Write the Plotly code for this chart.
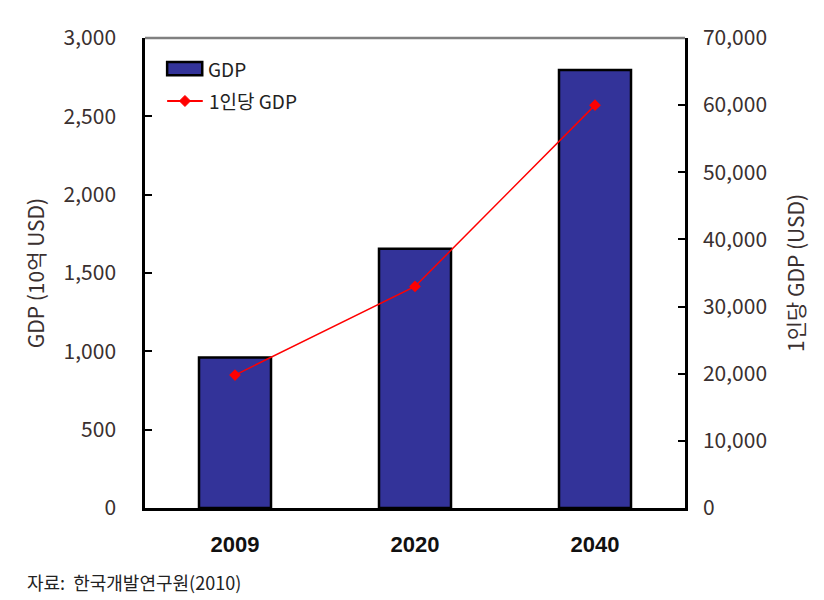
import plotly.graph_objects as go

years = ["2009", "2020", "2040"]
gdp = [960, 1655, 2795]
gdp_per_capita = [19800, 33000, 60000]

left_ticks = [0, 500, 1000, 1500, 2000, 2500, 3000]
right_ticks = [0, 10000, 20000, 30000, 40000, 50000, 60000, 70000]

series_names = ["GDP", "1인당 GDP"]
source_text = "자료:  한국개발연구원(2010)"

txt = "#3a3030"
font_main = "Noto Sans CJK KR"
bar_color = "#333399"
line_color = "#ff0000"

fig = go.Figure()
fig.add_trace(go.Bar(
    x=years, y=gdp, name=series_names[0], width=0.4,
    marker=dict(color=bar_color, line=dict(color="black", width=2.5)),
    yaxis="y", showlegend=False,
))
fig.add_trace(go.Scatter(
    x=years, y=gdp_per_capita, name=series_names[1], mode="lines+markers",
    line=dict(color=line_color, width=1.5),
    marker=dict(symbol="diamond", size=9, color=line_color),
    yaxis="y2", showlegend=False,
))

fig.update_layout(
    width=816, height=592,
    margin=dict(l=137, r=139, t=30, b=92),
    paper_bgcolor="white", plot_bgcolor="white",
    font=dict(family=font_main, color=txt, size=21),
    xaxis=dict(
        type="category", showgrid=False, ticks="",
        showline=True, linecolor="black", linewidth=2.5,
        tickfont=dict(family="Liberation Sans", size=22, color="#111", weight="bold"),
        ticklabelstandoff=15,
    ),
    yaxis=dict(
        range=[0, 3000], tickvals=left_ticks,
        ticktext=[f"{v:,}" for v in left_ticks],
        showgrid=False, zeroline=False,
        showline=True, linecolor="black", linewidth=2.5,
        ticks="inside", ticklen=7, tickwidth=2, tickcolor="black",
        tickfont=dict(size=21, color=txt),
        ticklabelstandoff=22,
        title=dict(text="GDP (10억 USD)", font=dict(size=21, color=txt), standoff=14),
    ),
    yaxis2=dict(
        range=[0, 70000], tickvals=right_ticks,
        ticktext=[f"{v:,}" for v in right_ticks],
        overlaying="y", side="right",
        showgrid=False, zeroline=False,
        showline=True, linecolor="black", linewidth=2.5,
        ticks="inside", ticklen=7, tickwidth=2, tickcolor="black",
        tickfont=dict(size=21, color=txt),
        ticklabelstandoff=11,
        title=dict(text="1인당 GDP (USD)", font=dict(size=21, color=txt), standoff=24),
    ),
)

# gray top border of plot area
fig.add_shape(type="line", xref="paper", yref="paper", x0=0, x1=1, y0=1, y1=1,
              line=dict(color="#808080", width=2.5), layer="below")

# legend (drawn in paper coordinates)
fig.add_shape(type="rect", xref="paper", yref="paper",
              x0=0.041, x1=0.106, y0=0.921, y1=0.949,
              fillcolor=bar_color, line=dict(color="black", width=2.5))
fig.add_annotation(text=series_names[0], xref="paper", yref="paper",
                   x=0.113, y=0.935, xanchor="left", yanchor="middle", showarrow=False,
                   font=dict(size=19, color="#222"))
fig.add_shape(type="line", xref="paper", yref="paper",
              x0=0.041, x1=0.107, y0=0.866, y1=0.866,
              line=dict(color=line_color, width=2))
dx, dy = 5.5 / 540, 5.5 / 470
cx, cy = 0.074, 0.866
fig.add_shape(type="path", xref="paper", yref="paper",
              path=f"M {cx-dx} {cy} L {cx} {cy+dy} L {cx+dx} {cy} L {cx} {cy-dy} Z",
              fillcolor=line_color, line=dict(color=line_color, width=1))
fig.add_annotation(text=series_names[1], xref="paper", yref="paper",
                   x=0.115, y=0.866, xanchor="left", yanchor="middle", showarrow=False,
                   font=dict(size=19, color="#222"))

fig.add_annotation(
    text=source_text, xref="paper", yref="paper",
    x=-0.222, y=-0.157, xanchor="left", yanchor="middle", showarrow=False,
    font=dict(size=18, color="#222", family=font_main),
)

fig.write_html("out.html")
